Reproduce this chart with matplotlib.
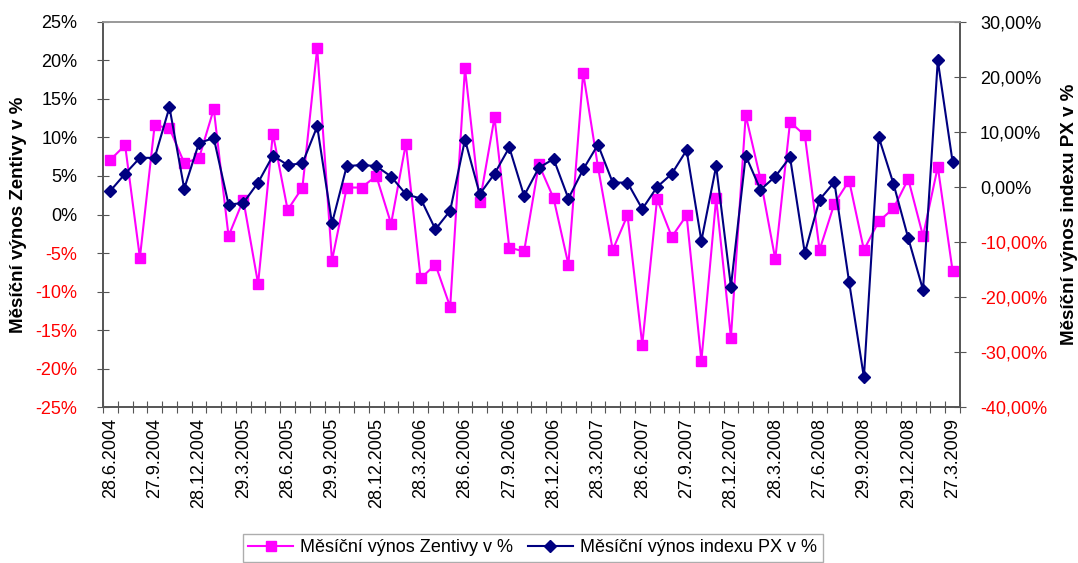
import matplotlib.pyplot as plt
from matplotlib.lines import Line2D
from matplotlib.ticker import FuncFormatter, FixedLocator

plt.rcParams['font.family'] = ['Liberation Sans', 'DejaVu Sans']

# monthly returns, 6/2004 - 3/2009
zentiva = [7.1, 9.0, -5.6, 11.6, 11.2, 6.7, 7.3, 13.7, -2.8, 1.9,
           -9.0, 10.5, 0.6, 3.5, 21.6, -6.0, 3.5, 3.5, 5.0, -1.2,
           9.2, -8.3, -6.5, -12.0, 19.0, 1.6, 12.6, -4.3, -4.8, 6.5,
           2.1, -6.5, 18.4, 6.2, -4.6, -0.1, -16.9, 2.0, -2.9, -0.1,
           -19.0, 2.1, -16.0, 12.9, 4.6, -5.8, 12.0, 10.3, -4.6, 1.4,
           4.4, -4.6, -0.9, 0.8, 4.6, -2.8, 6.2, -7.3]
px_index = [-0.7, 2.4, 5.3, 5.3, 14.5, -0.3, 8.0, 8.9, -3.2, -2.9,
            0.8, 5.7, 4.0, 4.3, 11.0, -6.6, 3.8, 4.0, 3.8, 1.9,
            -1.3, -2.1, -7.7, -4.3, 8.6, -1.3, 2.4, 7.2, -1.6, 3.5,
            5.1, -2.1, 3.2, 7.7, 0.8, 0.8, -4.0, 0.0, 2.4, 6.7,
            -9.8, 3.8, -18.1, 5.7, -0.5, 1.9, 5.4, -12.0, -2.3, 0.9,
            -17.3, -34.6, 9.1, 0.6, -9.3, -18.7, 23.0, 4.6]
date_labels = ['28.6.2004', '27.9.2004', '28.12.2004', '29.3.2005', '28.6.2005',
               '29.9.2005', '28.12.2005', '28.3.2006', '28.6.2006', '27.9.2006',
               '28.12.2006', '28.3.2007', '28.6.2007', '27.9.2007', '28.12.2007',
               '28.3.2008', '27.6.2008', '29.9.2008', '29.12.2008', '27.3.2009']

pink = '#FF00FF'
navy = '#000080'
x = list(range(len(zentiva)))

fig = plt.figure(figsize=(10.78, 5.63), dpi=100)
ax = fig.add_axes([0.0955, 0.277, 0.795, 0.684])
ax2 = ax.twinx()

ax.plot(x, zentiva, color=pink, lw=1.5, marker='s', ms=6.5, mec=pink)
ax2.plot(x, px_index, color=navy, lw=1.5, marker='D', ms=6, mec=navy)

ax.set_xlim(-0.5, len(x) - 0.5)
ax.set_ylim(-25, 25)
ax.set_yticks(range(-25, 26, 5))
ax.yaxis.set_major_formatter(FuncFormatter(lambda v, p: f'{v:.0f}%'))
ax2.set_ylim(-40, 30)
ax2.set_yticks(range(-40, 31, 10))
ax2.yaxis.set_major_formatter(FuncFormatter(lambda v, p: f'{v:.2f}%'.replace('.', ',')))

# category boundaries as ticks, labels every 3rd month
ax.xaxis.set_major_locator(FixedLocator([i - 0.5 for i in range(len(x) + 1)]))
ax.xaxis.set_major_formatter(FuncFormatter(lambda v, p: ''))
ax.xaxis.set_minor_locator(FixedLocator(list(range(0, len(x), 3))))
ax.set_xticklabels(date_labels, minor=True, rotation=90, fontsize=13)
ax.tick_params(axis='x', which='major', direction='inout', length=8, color='#555555')
ax.tick_params(axis='x', which='minor', length=0, pad=8)
ax.tick_params(axis='y', labelsize=13, direction='inout', length=9, pad=14, color='#555555')
ax2.tick_params(axis='y', labelsize=13, direction='inout', length=9, pad=10, color='#555555')

# negative values in red
for a in (ax, ax2):
    for tick, v in zip(a.yaxis.get_major_ticks(), a.get_yticks()):
        c = 'red' if v < 0 else 'black'
        tick.label1.set_color(c)
        tick.label2.set_color(c)

for a in (ax, ax2):
    for s in a.spines.values():
        s.set_color('#555555')
        s.set_linewidth(1.2)
    a.spines['top'].set_color('#999999')

ax.set_ylabel('Měsíční výnos Zentivy v %', fontsize=13.5, fontweight='bold')
ax2.set_ylabel('Měsíční výnos indexu PX v %', fontsize=13.5, fontweight='bold')
ax.yaxis.set_label_coords(-0.089, 0.5)
ax2.yaxis.set_label_coords(1.118, 0.5)

handles = [Line2D([], [], color=pink, lw=1.5, marker='s', ms=6.5),
           Line2D([], [], color=navy, lw=1.5, marker='D', ms=6)]
leg = fig.legend(handles, ['Měsíční výnos Zentivy v %', 'Měsíční výnos indexu PX v %'],
                 loc='upper center', bbox_to_anchor=(0.494, 0.068), ncol=2,
                 fontsize=13, frameon=True, fancybox=False, edgecolor='#999999',
                 handlelength=2.5, columnspacing=0.8, handletextpad=0.4,
                 borderpad=0.3)

fig.savefig('out.png', dpi=100)
